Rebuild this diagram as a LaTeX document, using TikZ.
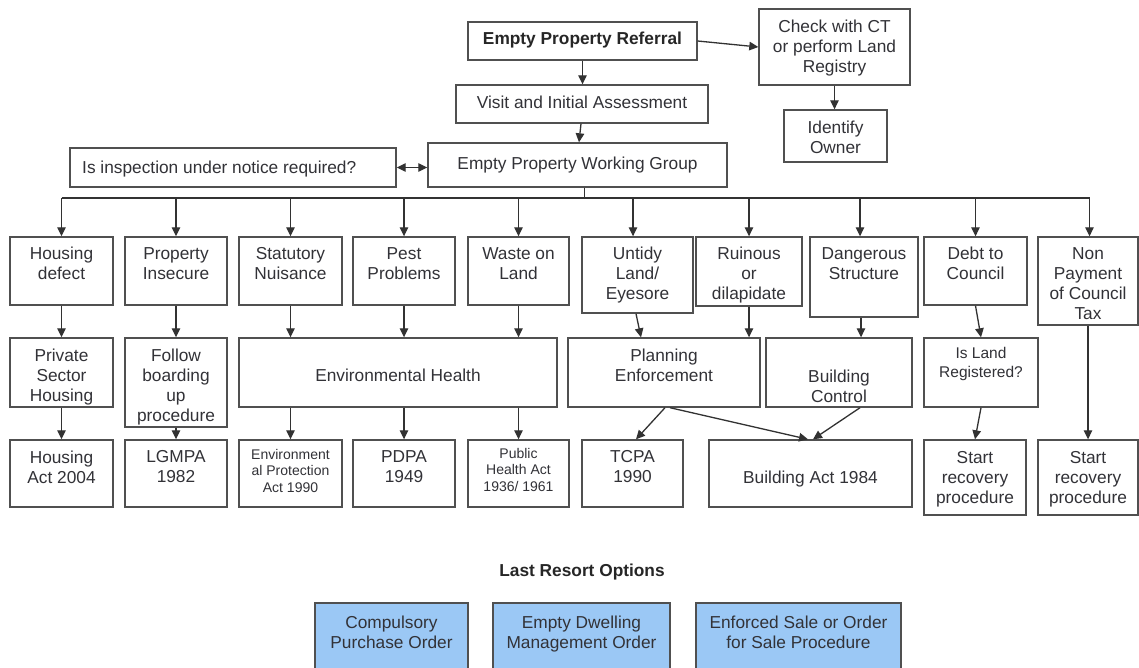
\documentclass[tikz,border=0pt]{standalone}
\usepackage{fontspec}
\setmainfont{Liberation Sans}
\usetikzlibrary{arrows.meta,fit,calc}

\definecolor{inkline}{RGB}{50,50,50}
\definecolor{inktext}{RGB}{50,50,55}
\definecolor{boxline}{RGB}{80,80,80}
\definecolor{lastfill}{RGB}{155,200,245}

\tikzset{
  boxsty/.style={draw=boxline, line width=1.4pt, inner sep=0pt, rectangle},
  txtsty/.style={inner sep=0pt, anchor=north, align=center, text=inktext,
                 font=\fontsize{17.3}{20}\selectfont},
  smalltxt/.style={font=\fontsize{14}{16.5}\selectfont},
  midtxt/.style={font=\fontsize{15.5}{19}\selectfont},
  boldtxt/.style={text=black!85, font=\fontsize{17.3}{20}\selectfont\bfseries},
  tip/.style={Triangle[length=9pt,width=8.5pt]},
  arr/.style={draw=inkline, line width=1.3pt, -{Triangle[length=9pt,width=8.5pt]}},
  dblarr/.style={draw=inkline, line width=1.3pt,
                 {Triangle[length=9pt,width=8.5pt]}-{Triangle[length=9pt,width=8.5pt]}},
  link/.style={draw=inkline, line width=1.3pt},
}

% \flowbox[text style]{name}{x1}{y1}{x2}{y2}{top of first line}{text}
\newcommand\flowbox[8][]{%
  \node[boxsty, fit={(#3,#4) (#5,#6)}] (#2) {};
  \node[txtsty,#1] at ({(#3+#5)/2},#7) {#8};
}

\begin{document}
\begin{tikzpicture}[x=1pt,y=-1pt]
\useasboundingbox (0,0) rectangle (1139,667);
\fill[white] (0,0) rectangle (1139,667);
\clip (0,0) rectangle (1139,667);

% ---- referral and working group ----
\flowbox[boldtxt]{ref}{468}{22}{697}{60}{32}{Empty Property Referral}
\flowbox{visit}{456}{85}{708}{123}{96}{Visit and Initial Assessment}
\flowbox{wg}{428}{143}{727}{187}{157}{Empty Property Working Group}
\node[boxsty, fit={(70,148) (396,187)}] (insp) {};
\node[txtsty, anchor=north west] at (82,161) {Is inspection under notice required?};
\flowbox{check}{759}{9}{910}{85}{20}{Check with CT\\or perform Land\\Registry}
\flowbox{owner}{784}{110}{887}{162}{121}{Identify\\Owner}

% ---- issue types ----
\flowbox{hd}{10}{237}{113}{305}{247}{Housing\\defect}
\flowbox{pi}{125}{237}{227}{305}{247}{Property\\Insecure}
\flowbox{sn}{239}{237}{342}{305}{247}{Statutory\\Nuisance}
\flowbox{pp}{353}{237}{455}{305}{247}{Pest\\Problems}
\flowbox{wl}{468}{237}{569}{305}{247}{Waste on\\Land}
\flowbox{ul}{582}{237}{693}{313}{247}{Untidy\\Land/\\Eyesore}
\flowbox{rd}{696}{237}{802}{306}{247}{Ruinous\\or\\dilapidate}
\flowbox{ds}{810}{237}{918}{317}{247}{Dangerous\\Structure}
\flowbox{dc}{924}{237}{1027}{305}{247}{Debt to\\Council}
\flowbox{np}{1038}{237}{1138}{325}{247}{Non\\Payment\\of Council\\Tax}

% ---- responsible teams ----
\flowbox{psh}{10}{338}{113}{407}{349}{Private\\Sector\\Housing}
\flowbox{fb}{125}{338}{227}{427}{349}{Follow\\boarding\\up\\procedure}
\flowbox{eh}{239}{338}{557}{407}{369}{Environmental Health}
\flowbox{pe}{568}{338}{760}{407}{349}{Planning\\Enforcement}
\flowbox{bc}{766}{338}{912}{407}{370}{Building\\Control}
\flowbox[midtxt]{ilr}{924}{338}{1038}{407}{347.5}{Is Land\\Registered?}

% ---- legislation and procedures ----
\flowbox{ha}{10}{440}{113}{507}{451}{Housing\\Act 2004}
\flowbox{lg}{125}{440}{227}{507}{450}{LGMPA\\1982}
\flowbox[smalltxt]{epa}{239}{440}{342}{507}{449}{Environment\\al Protection\\Act 1990}
\flowbox{pdpa}{353}{440}{455}{507}{450}{PDPA\\1949}
\flowbox[smalltxt]{pha}{468}{440}{569}{507}{448}{Public\\Health Act\\1936/ 1961}
\flowbox{tcpa}{582}{440}{683}{507}{450}{TCPA\\1990}
\flowbox{ba}{709}{440}{912}{507}{471}{Building Act 1984}
\flowbox{sra}{924}{440}{1026}{515}{451}{Start\\recovery\\procedure}
\flowbox{srb}{1038}{440}{1138}{515}{451}{Start\\recovery\\procedure}

% ---- last resort options ----
\node[txtsty, boldtxt] (lro) at (582,564) {Last Resort Options};
\node[boxsty, fill=lastfill, fit={(315,603) (468,690)}] (cpo) {};
\node[txtsty] at (391.5,616) {Compulsory\\Purchase Order};
\node[boxsty, fill=lastfill, fit={(493,603) (670,690)}] (edmo) {};
\node[txtsty] at (581.5,616) {Empty Dwelling\\Management Order};
\node[boxsty, fill=lastfill, fit={(696,603) (901,690)}] (esale) {};
\node[txtsty] at (798.5,616) {Enforced Sale or Order\\for Sale Procedure};

% ---- connectors: top ----
\draw[arr] (ref.south) -- (ref.south |- visit.north);
\draw[arr] ([xshift=-1pt]visit.south) -- ([xshift=1.5pt]wg.north);
\draw[arr] (ref.east) -- (check.west);
\draw[arr] (check.south) -- (check.south |- owner.north);
\draw[dblarr] (insp.east) -- (insp.east -| wg.west);

% ---- connectors: distribution bus ----
\coordinate (bus) at (0,198);
\draw[link] ([xshift=7pt]wg.south) -- ([xshift=7pt]wg.south |- bus);
\draw[link] (hd.north |- bus) -- ([xshift=1.5pt]np.north |- bus);
\foreach \n in {hd,pi,sn,pp,wl,rd,dc}
  \draw[arr] (\n.north |- bus) -- (\n.north);
\draw[arr] ([xshift=-4.5pt]ul.north |- bus) -- ([xshift=-4.5pt]ul.north);
\draw[arr] ([xshift=-4pt]ds.north |- bus) -- ([xshift=-4pt]ds.north);
\draw[arr] ([xshift=1.5pt]np.north |- bus) -- ([xshift=1.5pt]np.north);

% ---- connectors: issues to teams ----
\draw[arr] (hd.south) -- (psh.north);
\draw[arr] (pi.south) -- (fb.north);
\draw[arr] (sn.south) -- (sn.south |- eh.north);
\draw[arr] (pp.south) -- (pp.south |- eh.north);
\draw[arr] (wl.south) -- (wl.south |- eh.north);
\draw[arr] ([xshift=-1.5pt]ul.south) -- ([xshift=3.5pt]ul.south |- pe.north);
\draw[arr] (rd.south) -- (rd.south |- pe.north);
\draw[arr] ([xshift=-3pt]ds.south) -- ([xshift=-3pt]ds.south |- bc.north);
\draw[arr] (dc.south) -- (ilr.north);
\draw[arr] (np.south) -- (srb.north);

% ---- connectors: teams to legislation ----
\draw[arr] (psh.south) -- (ha.north);
\draw[arr] (fb.south) -- (lg.north);
\draw[arr] (epa.north |- eh.south) -- (epa.north);
\draw[arr] (pdpa.north |- eh.south) -- (pdpa.north);
\draw[arr] (pha.north |- eh.south) -- (pha.north);
\draw[arr] ([xshift=1pt]pe.south) -- ([xshift=3.5pt]tcpa.north);
\draw[arr] ([xshift=6pt]pe.south) -- ([xshift=-2.5pt]ba.north);
\draw[arr] ([xshift=21pt]bc.south) -- ([xshift=2.5pt]ba.north);
\draw[arr] (ilr.south) -- (sra.north);
\end{tikzpicture}
\end{document}
